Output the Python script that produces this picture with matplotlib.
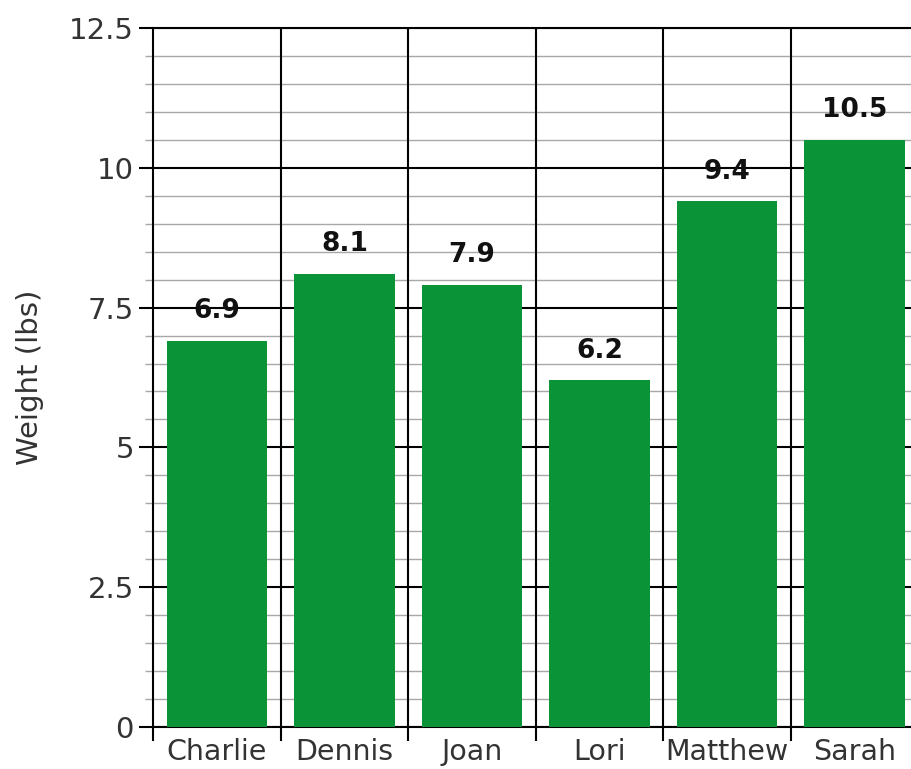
import numpy as np
import matplotlib.pyplot as plt
from matplotlib.ticker import MultipleLocator

names = ['Charlie', 'Dennis', 'Joan', 'Lori', 'Matthew', 'Sarah']
weights = [6.9, 8.1, 7.9, 6.2, 9.4, 10.5]

plt.rcParams['font.family'] = ['DejaVu Sans']

fig = plt.figure(figsize=(9.12, 7.69), dpi=100)
ax = fig.add_axes([0.168, 0.0546, 0.839, 0.909])

x = np.arange(len(names))
ax.bar(x, weights, width=0.79, color='#0b9337', zorder=3)

for xi, w in zip(x, weights):
    ax.text(xi, w + 0.3, f'{w}', ha='center', va='bottom',
            fontsize=19, fontweight='bold', color='#111111', zorder=4)

ax.set_xlim(-0.5, len(names) - 0.5)
ax.set_ylim(0, 12.5)

# y grid: black major, grey minor
ax.yaxis.set_minor_locator(MultipleLocator(0.5))
ax.set_yticks([0, 2.5, 5, 7.5, 10, 12.5])
ax.set_yticklabels(['0', '2.5', '5', '7.5', '10', '12.5'])
ax.grid(which='major', axis='y', color='black', linewidth=1.5, zorder=1)
ax.grid(which='minor', axis='y', color='#a8a8a8', linewidth=1, zorder=0)

# category separators
for b in np.arange(0.5, len(names) - 0.5, 1):
    ax.axvline(b, color='black', linewidth=1.5, zorder=2)
ax.set_xticks(x)
ax.set_xticklabels(names)
ax.set_xticks(np.arange(-0.5, len(names), 1), minor=True)

ax.tick_params(axis='x', which='major', length=0, labelsize=20.5, colors='#333333', pad=8)
ax.tick_params(axis='x', which='minor', length=10, width=1.5, color='black', direction='out')
ax.tick_params(axis='y', which='major', length=10, width=1.5, color='black', labelsize=21,
               labelcolor='#333333', pad=4)
ax.tick_params(axis='y', which='minor', length=6, width=1, color='#a8a8a8')

for side in ['top', 'left', 'bottom']:
    ax.spines[side].set_color('black')
    ax.spines[side].set_linewidth(1.5)
ax.spines['right'].set_visible(False)

ax.set_ylabel('Weight (lbs)', fontsize=21, color='#333333', labelpad=18)

fig.savefig('out.png', dpi=100)
